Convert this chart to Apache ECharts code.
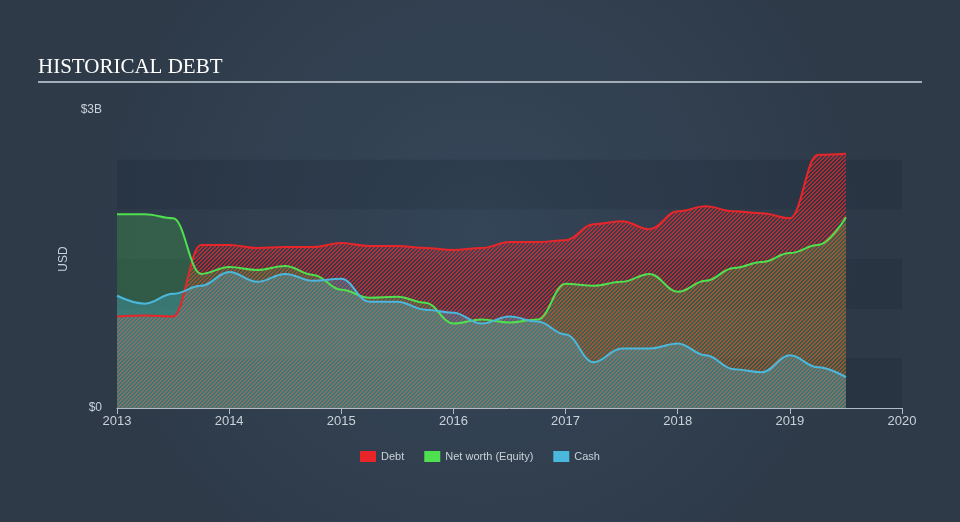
<!DOCTYPE html>
<html>
<head>
<meta charset="utf-8">
<script src="https://cdn.jsdelivr.net/npm/echarts@6/dist/echarts.min.js"></script>
<style>
html,body{margin:0;padding:0;background:#313e4e;}
#chart{width:960px;height:522px;}
</style>
</head>
<body>
<div id="chart"></div>
<script>
// Quarterly dates (decimal years)
var dates = [2013.0,2013.25,2013.5,2013.75,2014.0,2014.25,2014.5,2014.75,2015.0,2015.25,2015.5,2015.75,2016.0,2016.25,2016.5,2016.75,2017.0,2017.25,2017.5,2017.75,2018.0,2018.25,2018.5,2018.75,2019.0,2019.25,2019.5];
// Values in billions USD
var debt   = [0.92,0.93,0.92,1.64,1.64,1.61,1.62,1.62,1.66,1.63,1.63,1.61,1.59,1.61,1.67,1.67,1.69,1.85,1.88,1.80,1.98,2.03,1.98,1.96,1.91,2.55,2.56];
var equity = [1.95,1.95,1.91,1.35,1.42,1.39,1.43,1.34,1.19,1.11,1.12,1.06,0.85,0.89,0.86,0.89,1.25,1.23,1.27,1.35,1.17,1.28,1.41,1.47,1.56,1.64,1.92];
var cash   = [1.13,1.05,1.15,1.23,1.37,1.27,1.35,1.28,1.30,1.07,1.07,0.99,0.96,0.85,0.92,0.87,0.74,0.46,0.60,0.60,0.65,0.53,0.39,0.36,0.53,0.41,0.31];
var xTicks = [2013,2014,2015,2016,2017,2018,2019,2020];
var seriesNames = ['Debt','Net worth (Equity)','Cash'];

function zip(vals){ return dates.map(function(d,i){ return [d, vals[i]]; }); }

// crisp diagonal "/" hatch, 2px on / 2px off
function hatch(r,g,b,a){
  var c = document.createElement('canvas');
  c.width = 4; c.height = 4;
  var ctx = c.getContext('2d');
  var img = ctx.createImageData(4,4);
  for (var y=0;y<4;y++){ for (var x=0;x<4;x++){
    var k = (x+y)%4, i=(y*4+x)*4;
    var on = (k===0||k===1);
    img.data[i]=r; img.data[i+1]=g; img.data[i+2]=b; img.data[i+3]= on ? Math.round(a*255) : 0;
  }}
  ctx.putImageData(img,0,0);
  return c;
}

var COL = {debt:'#e8262a', equity:'#4fe04f', cash:'#4ab8dc'};
function areaSeries(name, vals, color, fill, z){
  return {name:name,type:'line',data:zip(vals),smooth:0.4,smoothMonotone:'x',showSymbol:false,symbol:'none',
    lineStyle:{width:0,color:color},itemStyle:{color:color},areaStyle:{color:fill,opacity:1},z:z,silent:true};
}
function lineSeries(name, vals, color, z){
  return {name:name,type:'line',data:zip(vals),smooth:0.4,smoothMonotone:'x',showSymbol:false,symbol:'none',
    lineStyle:{width:2,color:color},itemStyle:{color:color},z:z};
}

var chart = echarts.init(document.getElementById('chart'), null, {renderer:'canvas'});
var axisText = '#c9d1d9';
chart.setOption({
  animation:false,
  backgroundColor:{type:'radial',x:0.5,y:0.45,r:0.75,colorStops:[{offset:0,color:'#36475a'},{offset:1,color:'#2e3a48'}]},
  title:{text:'HISTORICAL DEBT',left:33,top:52,textStyle:{fontFamily:'Liberation Serif',fontSize:21,fontWeight:'normal',color:'#ffffff'}},
  graphic:[{type:'line',shape:{x1:38,y1:82,x2:922,y2:82},style:{stroke:'#a3adb8',lineWidth:2}}],
  legend:{
    data:seriesNames, top:446, left:'center', icon:'rect', itemWidth:16, itemHeight:11, itemGap:20,
    textStyle:{color:'#c9d1d9',fontSize:11,fontFamily:'Liberation Sans'}
  },
  grid:{left:117,right:58,top:110,bottom:114},
  xAxis:{
    type:'value', min:2013, max:2020, interval:1,
    axisLine:{lineStyle:{color:'#b3bcc6',width:1}},
    axisTick:{show:true,length:6,lineStyle:{color:'#b3bcc6'}},
    axisLabel:{color:axisText,fontSize:13,fontFamily:'Liberation Sans',margin:7,formatter:function(v){return xTicks.indexOf(v)>=0?String(v):'';}},
    splitLine:{show:false}
  },
  yAxis:{
    type:'value', min:0, max:3, interval:0.5,
    name:'USD', nameLocation:'middle', nameGap:32, nameRotate:90,
    nameTextStyle:{color:axisText,fontSize:12,fontFamily:'Liberation Sans'},
    axisLine:{show:false}, axisTick:{show:false},
    axisLabel:{color:axisText,fontSize:12,fontFamily:'Liberation Sans',margin:15,
      formatter:function(v){ if(v===0) return '$0'; if(v===3) return '$3B'; return ''; }},
    splitLine:{show:false},
    splitArea:{show:true,areaStyle:{color:['rgba(22,32,45,0.2)','rgba(40,52,68,0.08)','rgba(22,32,45,0.2)','rgba(40,52,68,0.08)','rgba(22,32,45,0.2)','rgba(0,0,0,0)']}}
  },
  series:[
    areaSeries('Debt', debt, COL.debt, {image:hatch(232,40,42,0.75),repeat:'repeat'}, 2),
    areaSeries('Net worth (Equity)', equity, COL.equity, 'rgba(79,224,79,0.22)', 3),
    areaSeries('Cash', cash, COL.cash, 'rgba(74,184,220,0.3)', 4),
    lineSeries('Debt', debt, COL.debt, 5),
    lineSeries('Net worth (Equity)', equity, COL.equity, 6),
    lineSeries('Cash', cash, COL.cash, 7)
  ]
});
</script>
</body>
</html>
